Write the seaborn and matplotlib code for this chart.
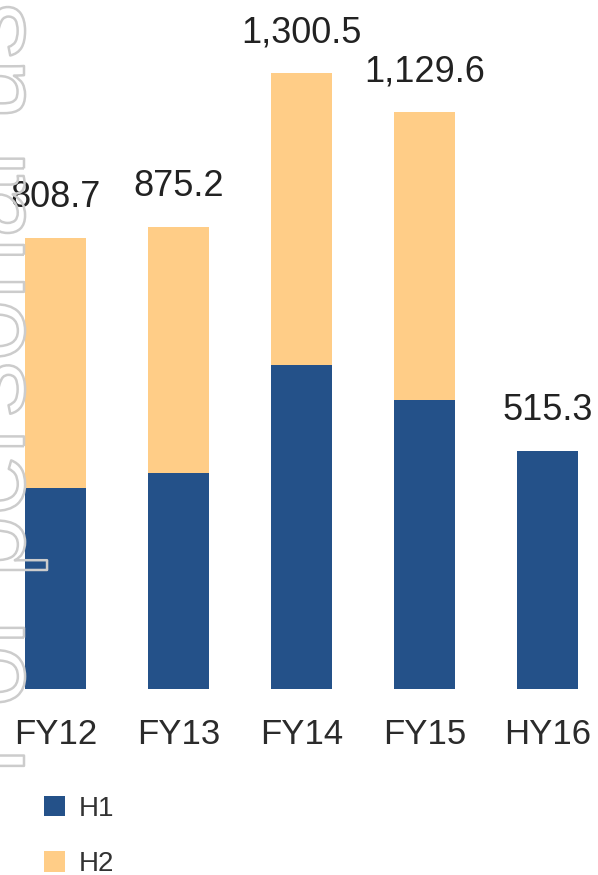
import pandas as pd
import seaborn as sns
import matplotlib
matplotlib.use("Agg")
import matplotlib.pyplot as plt
import matplotlib.patheffects as pe

# periods and the totals printed above each bar
periods = ["FY12", "FY13", "FY14", "FY15", "HY16"]
total_labels = ["808.7", "875.2", "1,300.5", "1,129.6", "515.3"]

# segment heights as drawn in the source graphic (it is not drawn to scale)
h1 = [201, 216, 324, 289, 238]
h2 = [250, 246, 292, 288, 0]

BLUE = "#245189"
ORANGE = "#FFCD87"

if __name__ == "__main__":
    sns.set_style("white")
    plt.rcParams["font.family"] = ["Liberation Sans", "DejaVu Sans"]

    df = pd.DataFrame({"period": periods, "H1": h1, "H2": h2})
    df["total"] = df["H1"] + df["H2"]

    fig = plt.figure(figsize=(5.98, 8.75), dpi=100)
    ax = fig.add_axes([0, 186 / 875, 1, 689 / 875])

    sns.barplot(x="period", y="total", data=df, color=ORANGE, width=0.5,
                saturation=1, label="H2", linewidth=0, ax=ax)
    sns.barplot(x="period", y="H1", data=df, color=BLUE, width=0.5,
                saturation=1, label="H1", linewidth=0, ax=ax)
    if ax.get_legend() is not None:
        ax.get_legend().remove()

    ax.set_xlim(-0.45, 4.41)
    ax.set_ylim(0, 689)
    sns.despine(ax=ax, left=True, bottom=True)
    ax.set_yticks([])
    ax.set_xlabel("")
    ax.set_ylabel("")
    ax.tick_params(axis="x", length=0, pad=21, labelsize=25, labelcolor="#2b2b2b")

    for i, (tot, lab) in enumerate(zip(df["total"], total_labels)):
        ax.annotate(lab, xy=(i, tot), xytext=(0, 22), textcoords="offset points",
                    ha="center", va="baseline", fontsize=26, color="#222222")

    handles, labels = ax.get_legend_handles_labels()
    order = [labels.index("H1"), labels.index("H2")]
    fig.legend([handles[k] for k in order], [labels[k] for k in order],
               loc="upper left", bbox_to_anchor=(30 / 598, 1 - 782 / 875),
               frameon=False, fontsize=20, handlelength=0.75, handleheight=0.75,
               handletextpad=0.5, labelspacing=1.05, borderpad=0,
               labelcolor="#333333")

    # hollow watermark running up the left edge
    fig.text(24 / 598, 1 - 775 / 875, "For personal use only", rotation=90,
             rotation_mode="anchor", ha="left", va="baseline", fontsize=80,
             color=(1, 1, 1, 0),
             path_effects=[pe.Stroke(linewidth=1.8, foreground="#cccccc")])

    fig.savefig("out.png", dpi=100)
